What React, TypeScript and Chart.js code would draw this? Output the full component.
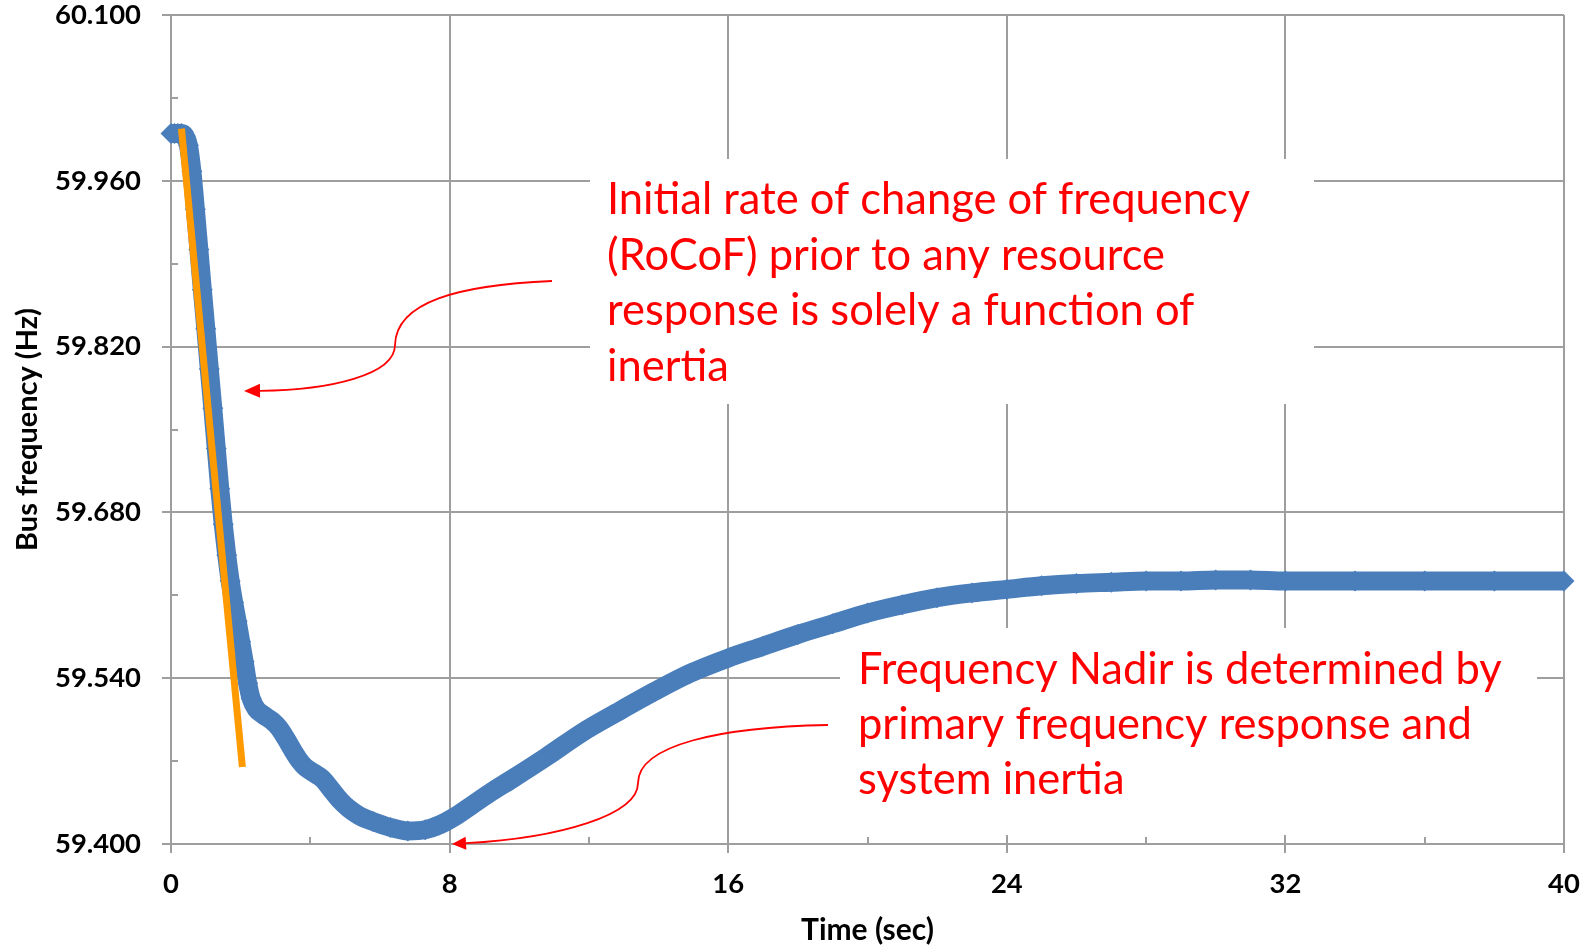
import React, { useEffect, useRef } from 'react';
import { Chart, registerables } from 'chart.js';

Chart.register(...registerables);

// ---- data ----
const timeSec = [
  0.0, 0.1, 0.2, 0.3, 0.4, 0.5, 0.6, 0.7, 0.8, 0.9, 1.0, 1.1, 1.2, 1.3, 1.4, 1.5, 1.6, 1.7, 1.8, 1.9,
  2.0, 2.1, 2.2, 2.3, 2.45, 2.65, 2.9, 3.1, 3.3, 3.5, 3.7, 3.85, 4.1, 4.35, 4.6, 4.85, 5.1, 5.4, 5.8,
  6.3, 6.8, 7.3, 7.7, 8.2, 8.7, 9.2, 9.8, 10.8, 11.8, 12.8, 13.9, 14.9, 16.0, 17.0, 18.0, 19.0, 20.0,
  21.0, 22.0, 23.0, 24.0, 25.0, 26.0, 27.0, 28.0, 29.0, 30.0, 31.0, 32.0, 34.0, 36.0, 38.0, 40.0,
];
const busFreqHz = [
  60.0, 60.0, 60.0, 60.0, 59.998, 59.99, 59.968, 59.936, 59.902, 59.868, 59.835, 59.801, 59.768, 59.734,
  59.7, 59.67, 59.644, 59.622, 59.604, 59.588, 59.571, 59.554, 59.536, 59.523, 59.514, 59.509, 59.504,
  59.498, 59.489, 59.479, 59.47, 59.465, 59.46, 59.455, 59.446, 59.437, 59.43, 59.424, 59.419, 59.414,
  59.411, 59.412, 59.416, 59.424, 59.434, 59.444, 59.455, 59.474, 59.494, 59.511, 59.529, 59.544, 59.557,
  59.567, 59.577, 59.586, 59.595, 59.602, 59.608, 59.612, 59.615, 59.618, 59.62, 59.621, 59.622, 59.622,
  59.623, 59.623, 59.622, 59.622, 59.622, 59.622, 59.622,
];
const rocofTime = [0.3, 2.05];
const rocofFreq = [60.004, 59.465];

const xTickValues = [0, 8, 16, 24, 32, 40];
const yTickValues = [59.4, 59.54, 59.68, 59.82, 59.96, 60.1];
const xMinorTicks = [4, 12, 20, 28, 36];
const yMinorTicks = [59.47, 59.61, 59.75, 59.89, 60.03];

const xTitle = 'Time (sec)';
const yTitle = 'Bus frequency (Hz)';
const noteRocof = [
  'Initial rate of change of frequency',
  '(RoCoF) prior to any resource',
  'response is solely a function of',
  'inertia',
];
const noteNadir = [
  'Frequency Nadir is determined by',
  'primary frequency response and',
  'system inertia',
];

const GRID = '#9e9e9e';
const BLUE = '#4a7ebb';
const ORANGE = '#ff9a00';
const RED = '#ff0000';
const FAMILY = 'Lato';

function drawArrow(
  ctx: CanvasRenderingContext2D,
  start: number[],
  seg1: number[],
  seg2: number[],
  tip: number[],
  headLen: number,
  headHalf: number,
) {
  const [c1x, c1y] = [seg2[2], seg2[3]];
  const ang = Math.atan2(tip[1] - c1y, tip[0] - c1x);
  const bx = tip[0] - Math.cos(ang) * headLen;
  const by = tip[1] - Math.sin(ang) * headLen;
  ctx.beginPath();
  ctx.moveTo(start[0], start[1]);
  ctx.bezierCurveTo(seg1[0], seg1[1], seg1[2], seg1[3], seg1[4], seg1[5]);
  ctx.bezierCurveTo(seg2[0], seg2[1], seg2[2], seg2[3], bx, by);
  ctx.stroke();
  const nx = -Math.sin(ang);
  const ny = Math.cos(ang);
  ctx.beginPath();
  ctx.moveTo(tip[0], tip[1]);
  ctx.lineTo(bx + nx * headHalf, by + ny * headHalf);
  ctx.lineTo(bx - nx * headHalf, by - ny * headHalf);
  ctx.closePath();
  ctx.fill();
}

export default function App() {
  const ref = useRef<HTMLCanvasElement>(null);

  useEffect(() => {
    document.body.style.margin = '0';
    const canvas = ref.current!;
    const mctx = canvas.getContext('2d')!;
    const fit = (text: string, weight: string, target: number) => {
      mctx.font = `${weight} 100px ${FAMILY}`;
      return (100 * target) / mctx.measureText(text).width;
    };
    const tickSize = fit('60.100', 'bold', 86);
    const xTitleSize = fit(xTitle, 'bold', 133);
    const yTitleSize = fit(yTitle, 'bold', 243);
    const noteSize = (fit(noteRocof[0], 'normal', 642) + fit(noteNadir[0], 'normal', 645)) / 2;

    const notesPlugin = {
      id: 'notes',
      beforeDatasetsDraw(chart: any) {
        const ctx: CanvasRenderingContext2D = chart.ctx;
        const xs = chart.scales.x;
        const ys = chart.scales.y;
        ctx.save();
        ctx.strokeStyle = GRID;
        ctx.lineWidth = 2;
        xMinorTicks.forEach((v) => {
          const px = Math.round(xs.getPixelForValue(v));
          ctx.beginPath();
          ctx.moveTo(px, xs.top);
          ctx.lineTo(px, xs.top - 7);
          ctx.stroke();
        });
        yMinorTicks.forEach((v) => {
          const py = Math.round(ys.getPixelForValue(v));
          ctx.beginPath();
          ctx.moveTo(ys.right, py);
          ctx.lineTo(ys.right + 7, py);
          ctx.stroke();
        });
        ctx.fillStyle = '#ffffff';
        ctx.fillRect(590, 159, 724, 245);
        ctx.fillRect(840, 628, 697, 207);
        ctx.restore();
      },
      afterDraw(chart: any) {
        const ctx: CanvasRenderingContext2D = chart.ctx;
        ctx.save();
        ctx.fillStyle = RED;
        ctx.font = `${noteSize}px ${FAMILY}`;
        ctx.textBaseline = 'alphabetic';
        ctx.textAlign = 'left';
        noteRocof.forEach((line, i) => ctx.fillText(line, 607, 214 + i * 55.5));
        noteNadir.forEach((line, i) => ctx.fillText(line, 858, 684 + i * 55));
        ctx.strokeStyle = RED;
        ctx.lineWidth = 1.8;
        drawArrow(ctx, [552, 281], [458, 285, 396, 302, 395, 345], [395, 375, 330, 390], [244, 391], 16, 7);
        drawArrow(ctx, [828, 725], [720, 727, 638, 745, 638, 783], [638, 815, 560, 838], [452, 844], 14, 6.5);
        ctx.restore();
      },
    };

    const tickFont = { family: FAMILY, weight: 'bold' as const, size: tickSize };

    const chart = new Chart(canvas, {
      type: 'line',
      data: {
        datasets: [
          {
            label: 'RoCoF',
            data: rocofTime.map((t, i) => ({ x: t, y: rocofFreq[i] })),
            borderColor: ORANGE,
            backgroundColor: ORANGE,
            borderWidth: 7,
            pointRadius: 0,
            order: 0,
          },
          {
            label: 'Bus frequency',
            data: timeSec.map((t, i) => ({ x: t, y: busFreqHz[i] })),
            borderColor: BLUE,
            backgroundColor: BLUE,
            borderWidth: 19,
            borderJoinStyle: 'round',
            cubicInterpolationMode: 'monotone',
            pointStyle: 'rectRot',
            pointRadius: 10.5,
            pointBorderWidth: 0,
            pointBackgroundColor: BLUE,
            clip: false,
            order: 1,
          },
        ],
      },
      options: {
        responsive: false,
        animation: false,
        events: [],
        layout: { padding: { top: 15, right: 24, left: 0, bottom: 0 } },
        plugins: { legend: { display: false }, tooltip: { enabled: false } },
        scales: {
          x: {
            type: 'linear',
            min: 0,
            max: 40,
            afterBuildTicks: (s: any) => {
              s.ticks = xTickValues.map((v) => ({ value: v }));
            },
            afterFit: (s: any) => {
              s.height = 104;
              s.paddingLeft = 0;
              s.paddingRight = 0;
            },
            grid: { color: GRID, lineWidth: 2, tickLength: 9, drawTicks: true },
            border: { color: GRID, width: 2 },
            ticks: {
              font: tickFont,
              color: '#000',
              padding: 883 - 853 - (1.2 * tickSize) / 2 + 1,
              maxRotation: 0,
              autoSkip: false,
              callback: (v: any) => String(v),
            },
            title: {
              display: true,
              text: xTitle,
              color: '#000',
              font: { family: FAMILY, weight: 'bold', size: xTitleSize },
              padding: { top: 0, bottom: Math.max(0, 18 - 0.6 * xTitleSize) },
            },
          },
          y: {
            type: 'linear',
            min: 59.4,
            max: 60.1,
            afterBuildTicks: (s: any) => {
              s.ticks = yTickValues.map((v) => ({ value: v }));
            },
            afterFit: (s: any) => {
              s.width = 171;
              s.paddingTop = 0;
              s.paddingBottom = 0;
            },
            grid: { color: GRID, lineWidth: 2, tickLength: 9, drawTicks: true },
            border: { color: GRID, width: 2 },
            ticks: {
              font: tickFont,
              color: '#000',
              padding: 21,
              autoSkip: false,
              callback: (v: any) => Number(v).toFixed(3),
            },
            title: {
              display: true,
              text: yTitle,
              color: '#000',
              font: { family: FAMILY, weight: 'bold', size: yTitleSize },
              padding: { top: Math.max(0, 28 - 0.6 * yTitleSize), bottom: 0 },
            },
          },
        },
      },
      plugins: [notesPlugin],
    } as any);

    return () => chart.destroy();
  }, []);

  return (
    <div style={{ position: 'absolute', left: 0, top: 0, width: 1588, height: 948, background: '#fff' }}>
      <canvas ref={ref} width={1588} height={948} style={{ display: 'block' }} />
    </div>
  );
}
